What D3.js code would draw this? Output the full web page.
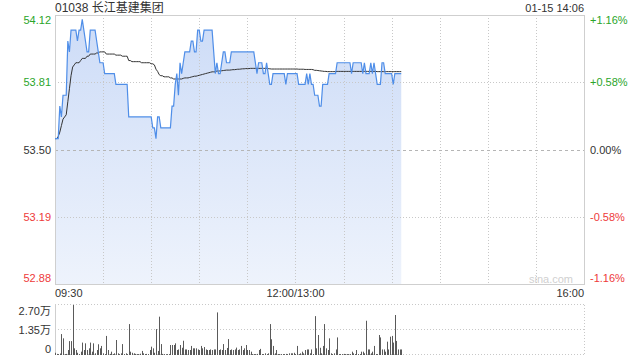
<!DOCTYPE html>
<html>
<head>
<meta charset="utf-8">
<script src="https://cdn.jsdelivr.net/npm/d3@7"></script>
<style>
  body { margin: 0; background: #fff; }
  text { font-family: "Liberation Sans", Arial, "Noto Sans CJK SC", sans-serif; }
</style>
</head>
<body>
<script>
// chart data (one value per minute from 09:30)
var title = "01038 长江基建集团";
var stamp = "01-15 14:06";
var prevClose = 53.50;

var priceTicks = [54.12, 53.81, 53.50, 53.19, 52.88];
var pctTicks = ["+1.16%", "+0.58%", "0.00%", "-0.58%", "-1.16%"];
var timeTicks = ["09:30", "12:00/13:00", "16:00"];
var volTicks = ["2.70万", "1.35万", "0"];

var prices = [
    53.55, 53.55, 53.55, 53.70, 53.65, 53.75, 53.75, 53.75, 54.00, 53.95,
    54.05, 54.05, 54.05, 54.05, 54.00, 54.05, 54.05, 54.10, 54.05, 54.00,
    53.95, 53.95, 54.05, 54.05, 54.05, 54.05, 54.00, 53.95, 53.90, 53.90,
    53.90, 53.85, 53.85, 53.85, 53.85, 53.85, 53.85, 53.85, 53.80, 53.80,
    53.80, 53.80, 53.80, 53.80, 53.80, 53.80, 53.65, 53.65, 53.65, 53.65,
    53.65, 53.65, 53.65, 53.65, 53.65, 53.65, 53.65, 53.65, 53.65, 53.65,
    53.65, 53.60, 53.60, 53.55, 53.65, 53.65, 53.60, 53.60, 53.60, 53.60,
    53.60, 53.60, 53.60, 53.70, 53.70, 53.80, 53.85, 53.75, 53.90, 53.85,
    53.90, 53.95, 53.95, 53.95, 53.95, 54.00, 54.00, 53.95, 53.95, 54.05,
    54.05, 54.00, 54.00, 54.05, 54.05, 54.05, 54.05, 54.05, 54.05, 53.95,
    53.85, 53.90, 53.85, 53.85, 53.90, 53.95, 53.95, 53.90, 53.90, 53.90,
    53.95, 53.95, 53.95, 53.95, 53.95, 53.95, 53.95, 53.95, 53.95, 53.95,
    53.95, 53.95, 53.95, 53.95, 53.95, 53.90, 53.85, 53.90, 53.90, 53.90,
    53.85, 53.85, 53.90, 53.85, 53.80, 53.80, 53.85, 53.85, 53.85, 53.85,
    53.85, 53.85, 53.85, 53.85, 53.80, 53.85, 53.85, 53.85, 53.85, 53.85,
    53.85, 53.85, 53.80, 53.80, 53.80, 53.80, 53.80, 53.85, 53.80, 53.85,
    53.80, 53.80, 53.75, 53.75, 53.75, 53.70, 53.70, 53.80, 53.80, 53.80,
    53.80, 53.85, 53.85, 53.85, 53.85, 53.85, 53.90, 53.90, 53.90, 53.90,
    53.90, 53.90, 53.90, 53.90, 53.90, 53.85, 53.90, 53.90, 53.90, 53.90,
    53.90, 53.90, 53.85, 53.90, 53.85, 53.85, 53.85, 53.90, 53.85, 53.90,
    53.85, 53.80, 53.80, 53.80, 53.90, 53.90, 53.85, 53.85, 53.85, 53.85,
    53.85, 53.80, 53.85, 53.85, 53.85, 53.85, 53.85
];

var avgPrices = [
    53.55, 53.55, 53.56, 53.58, 53.61, 53.64, 53.65, 53.66, 53.72, 53.78,
    53.84, 53.88, 53.89, 53.90, 53.90, 53.90, 53.91, 53.92, 53.92, 53.92,
    53.93, 53.93, 53.94, 53.94, 53.94, 53.94, 53.945, 53.945, 53.95, 53.95,
    53.95, 53.95, 53.94, 53.94, 53.94, 53.94, 53.94, 53.94, 53.935, 53.935,
    53.935, 53.935, 53.93, 53.93, 53.93, 53.93, 53.91, 53.91, 53.905, 53.905,
    53.905, 53.905, 53.905, 53.905, 53.90, 53.90, 53.90, 53.90, 53.90, 53.90,
    53.895, 53.895, 53.89, 53.87, 53.86, 53.845, 53.84, 53.84, 53.835, 53.835,
    53.835, 53.835, 53.83, 53.83, 53.825, 53.825, 53.825, 53.825, 53.825, 53.825,
    53.828, 53.83, 53.83, 53.83, 53.832, 53.834, 53.836, 53.838, 53.838, 53.84,
    53.842, 53.844, 53.846, 53.848, 53.85, 53.852, 53.854, 53.856, 53.858, 53.858,
    53.858, 53.862, 53.862, 53.862, 53.863, 53.864, 53.865, 53.866, 53.866, 53.866,
    53.867, 53.868, 53.868, 53.869, 53.87, 53.87, 53.871, 53.872, 53.872, 53.873,
    53.873, 53.873, 53.874, 53.874, 53.874, 53.874, 53.874, 53.874, 53.874, 53.874,
    53.874, 53.874, 53.874, 53.873, 53.872, 53.871, 53.871, 53.871, 53.871, 53.871,
    53.871, 53.871, 53.871, 53.871, 53.871, 53.871, 53.871, 53.871, 53.871, 53.871,
    53.871, 53.871, 53.870, 53.870, 53.870, 53.870, 53.869, 53.869, 53.869, 53.869,
    53.869, 53.868, 53.865, 53.865, 53.864, 53.863, 53.862, 53.861, 53.860, 53.860,
    53.859, 53.859, 53.859, 53.859, 53.859, 53.859, 53.860, 53.860, 53.860, 53.860,
    53.860, 53.860, 53.860, 53.860, 53.860, 53.860, 53.860, 53.860, 53.860, 53.860,
    53.860, 53.860, 53.860, 53.860, 53.860, 53.860, 53.860, 53.860, 53.860, 53.860,
    53.860, 53.859, 53.859, 53.859, 53.859, 53.859, 53.859, 53.859, 53.859, 53.859,
    53.859, 53.859, 53.859, 53.859, 53.859, 53.859, 53.859
];

var volumes = [
    1200, 600, 500, 800, 11300, 9000, 500, 600, 2700, 7500,
    7500, 27000, 3600, 2700, 1200, 500, 1800, 6700, 2700, 6300,
    2700, 3600, 6700, 1800, 6300, 900, 2700, 5800, 3600, 4900,
    900, 500, 10300, 2700, 600, 1800, 500, 900, 8100, 900,
    500, 900, 5900, 500, 900, 500, 16700, 1800, 1200, 900,
    600, 500, 500, 700, 2200, 900, 500, 600, 500, 2700,
    4500, 3600, 1200, 14000, 2200, 20700, 5900, 600, 500, 400,
    500, 500, 5400, 5400, 5400, 6300, 2700, 3000, 5400, 3900,
    7700, 3000, 3000, 2700, 2700, 4900, 3600, 3600, 3600, 3000,
    2700, 4900, 3600, 4300, 3000, 2700, 2700, 3000, 2700, 3000,
    3000, 23000, 2700, 3000, 2700, 5900, 2700, 3800, 8600, 2700,
    3000, 2700, 3000, 4000, 2700, 3000, 4900, 2700, 3600, 5400,
    2700, 2700, 1800, 500, 500, 500, 600, 2700, 3300, 500,
    500, 900, 500, 900, 16700, 8500, 4900, 900, 2700, 500,
    500, 500, 500, 500, 600, 500, 900, 900, 900, 1200,
    500, 4900, 500, 900, 1800, 900, 2700, 3000, 3000, 900,
    3000, 500, 21000, 3600, 10800, 3900, 900, 4900, 16700, 3600,
    2700, 9000, 900, 500, 900, 3000, 9500, 500, 500, 500,
    600, 500, 500, 500, 500, 1800, 900, 500, 2700, 500,
    500, 1800, 1800, 900, 18500, 3000, 3000, 900, 1800, 4900,
    500, 500, 10800, 9500, 3000, 3000, 1800, 7200, 3000, 9900,
    10300, 6700, 21600, 7600, 3000, 3000, 3000
];

var svgWidth = 640;
var svgHeight = 360;
var left = 55, right = 584;
var priceTop = 15, priceBottom = 284;
var volTop = 305, volBottom = 355;

var green = "#2aa52a";
var red = "#ee3a3a";
var textColor = "#333";

var svg = d3.select("body")
    .append("svg")
    .attr("width", svgWidth)
    .attr("height", svgHeight);

// scales: 330 trading minutes (09:30-12:00, 13:00-16:00)
var xScale = d3.scaleLinear().domain([0, 330]).range([left, right]);
var yScale = d3.scaleLinear()
    .domain([d3.min(priceTicks), d3.max(priceTicks)])
    .range([priceBottom, priceTop]);
var volScale = d3.scaleLinear().domain([0, 27000]).range([volBottom, volTop]);

var defs = svg.append("defs");
var grad = defs.append("linearGradient")
    .attr("id", "fillGrad")
    .attr("x1", 0).attr("y1", 0).attr("x2", 0).attr("y2", 1);
grad.append("stop").attr("offset", "0%").attr("stop-color", "#cddcf7");
grad.append("stop").attr("offset", "100%").attr("stop-color", "#eef3fc");

// area under price
var area = d3.area()
    .x((d, i) => xScale(i))
    .y0(priceBottom)
    .y1(d => yScale(d));
svg.append("path")
    .datum(prices)
    .attr("d", area)
    .attr("fill", "url(#fillGrad)");

// vertical grid
var vGrid = d3.range(1, 11).map(k => k * 30);
svg.selectAll(".vgrid")
    .data(vGrid)
    .enter()
    .append("line")
    .attr("x1", d => Math.round(xScale(d)) + 0.5)
    .attr("x2", d => Math.round(xScale(d)) + 0.5)
    .attr("y1", priceTop)
    .attr("y2", priceBottom)
    .attr("stroke", "#c8c8c8")
    .attr("stroke-dasharray", "1,2");

// horizontal grid
svg.selectAll(".hgrid")
    .data(priceTicks.slice(1, 4))
    .enter()
    .append("line")
    .attr("x1", left)
    .attr("x2", right)
    .attr("y1", d => Math.round(yScale(d)) + 0.5)
    .attr("y2", d => Math.round(yScale(d)) + 0.5)
    .attr("stroke", d => d === prevClose ? "#b5b5b5" : "#c8c8c8")
    .attr("stroke-dasharray", d => d === prevClose ? "3,3" : "1,2");

// frame
svg.append("rect")
    .attr("x", left + 0.5)
    .attr("y", priceTop + 0.5)
    .attr("width", right - left)
    .attr("height", priceBottom - priceTop)
    .attr("fill", "none")
    .attr("stroke", "#cfcfcf");

// average line
var line = d3.line()
    .x((d, i) => xScale(i))
    .y(d => yScale(d));
svg.append("path")
    .datum(avgPrices)
    .attr("d", line)
    .attr("fill", "none")
    .attr("stroke", "#333")
    .attr("stroke-width", 1);

// price line
svg.append("path")
    .datum(prices)
    .attr("d", line)
    .attr("fill", "none")
    .attr("stroke", "#4f8ee8")
    .attr("stroke-width", 1.2);

// left price labels
var labelShift = [5, 0, 0, 0, -6];
svg.selectAll(".plabel")
    .data(priceTicks)
    .enter()
    .append("text")
    .attr("x", 51)
    .attr("y", (d, i) => yScale(d) + labelShift[i] + 4)
    .attr("text-anchor", "end")
    .attr("font-size", "11px")
    .attr("fill", d => d > prevClose ? green : (d < prevClose ? red : textColor))
    .text(d => d.toFixed(2));

// right percent labels
svg.selectAll(".pctlabel")
    .data(pctTicks)
    .enter()
    .append("text")
    .attr("x", 590)
    .attr("y", (d, i) => yScale(priceTicks[i]) + labelShift[i] + 4)
    .attr("font-size", "11px")
    .attr("fill", d => d[0] === "+" ? green : (d[0] === "-" ? red : textColor))
    .text(d => d);

// title and time stamp
svg.append("text")
    .attr("x", 55)
    .attr("y", 12)
    .attr("font-size", "12px")
    .attr("fill", textColor)
    .text(title);

svg.append("text")
    .attr("x", right)
    .attr("y", 12)
    .attr("text-anchor", "end")
    .attr("font-size", "11px")
    .attr("fill", textColor)
    .text(stamp);

// watermark
svg.append("text")
    .attr("x", 573)
    .attr("y", 283)
    .attr("text-anchor", "end")
    .attr("font-size", "11px")
    .attr("fill", "#d0d0d0")
    .text("sina.com");

// time labels
var timePos = [0, 150, 330];
var timeAnchor = ["start", "middle", "end"];
svg.selectAll(".tlabel")
    .data(timeTicks)
    .enter()
    .append("text")
    .attr("x", (d, i) => xScale(timePos[i]))
    .attr("y", 297)
    .attr("text-anchor", (d, i) => timeAnchor[i])
    .attr("font-size", "11px")
    .attr("fill", textColor)
    .text(d => d);

// volume grid
var volGridVals = [27000, 13500, 0];
svg.selectAll(".vol-grid")
    .data(volGridVals)
    .enter()
    .append("line")
    .attr("x1", left)
    .attr("x2", right)
    .attr("y1", d => Math.round(volScale(d)) - 0.5)
    .attr("y2", d => Math.round(volScale(d)) - 0.5)
    .attr("stroke", "#c8c8c8")
    .attr("stroke-dasharray", "1,2");

svg.append("line")
    .attr("x1", right + 0.5).attr("x2", right + 0.5)
    .attr("y1", volTop).attr("y2", volBottom)
    .attr("stroke", "#c8c8c8")
    .attr("stroke-dasharray", "1,2");

svg.append("line")
    .attr("x1", left + 0.5).attr("x2", left + 0.5)
    .attr("y1", volTop - 1).attr("y2", volBottom)
    .attr("stroke", "#cfcfcf");

// volume bars
svg.selectAll(".vbar")
    .data(volumes)
    .enter()
    .append("rect")
    .attr("x", (d, i) => Math.round(xScale(i)))
    .attr("y", d => volScale(d))
    .attr("width", 1)
    .attr("height", d => volBottom - volScale(d))
    .attr("fill", "#5a5a5a");

// volume labels
var volShift = [6, 0, -6];
svg.selectAll(".vlabel")
    .data(volTicks)
    .enter()
    .append("text")
    .attr("x", 51)
    .attr("y", (d, i) => volScale(volGridVals[i]) + volShift[i] + 4)
    .attr("text-anchor", "end")
    .attr("font-size", "11px")
    .attr("fill", textColor)
    .text(d => d);
</script>
</body>
</html>
